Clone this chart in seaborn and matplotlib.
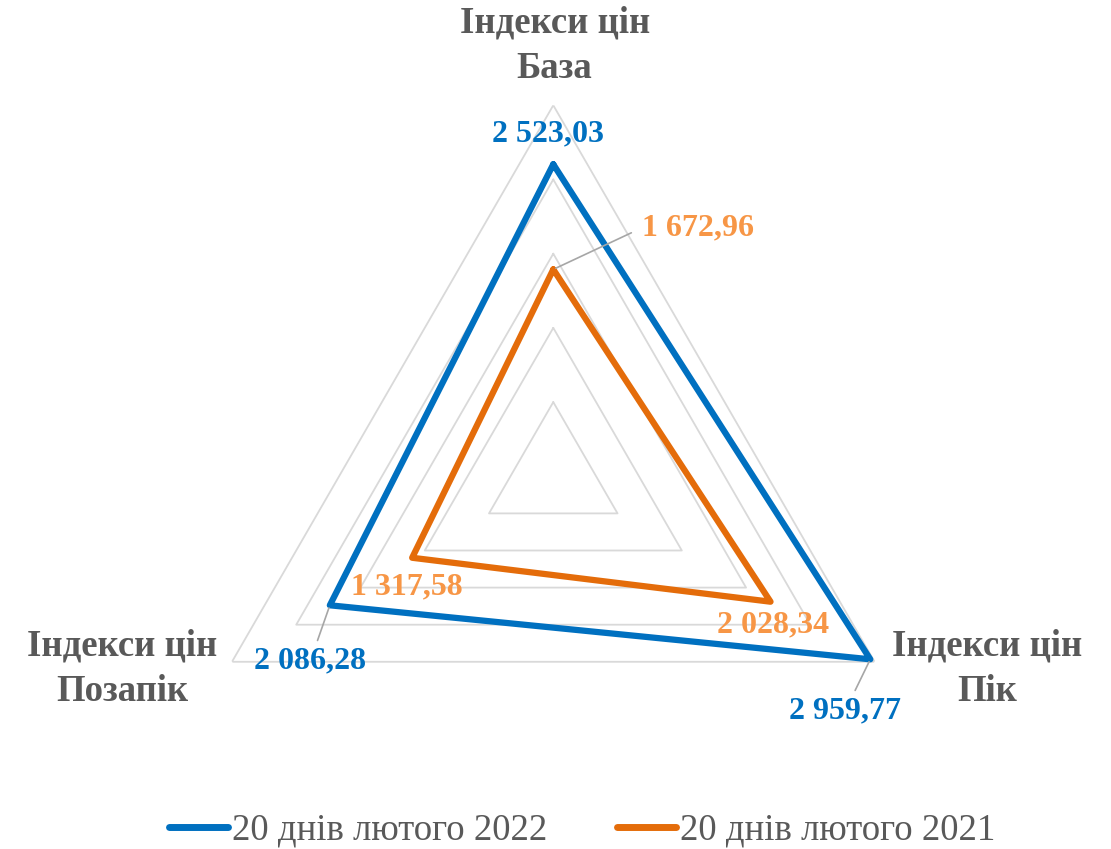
import numpy as np
import pandas as pd
import matplotlib
matplotlib.use("Agg")
import matplotlib.pyplot as plt
import seaborn as sns
from matplotlib.lines import Line2D

# дані
categories = ["Індекси цін\nБаза", "Індекси цін\nПік", "Індекси цін\nПозапік"]
series_names = ["20 днів лютого 2022", "20 днів лютого 2021"]
values_2022 = [2523.03, 2959.77, 2086.28]
values_2021 = [1672.96, 2028.34, 1317.58]
labels_2022 = ["2 523,03", "2 959,77", "2 086,28"]
labels_2021 = ["1 672,96", "2 028,34", "1 317,58"]
grid_levels = [600, 1200, 1800, 2400, 3000]

blue = "#0070C0"
orange = "#E46C0A"
orange_lbl = "#F79646"
grey = "#595959"

sns.set_theme(style="white")
plt.rcParams["font.family"] = ["Liberation Serif", "DejaVu Serif"]

n = len(categories)
angles = np.linspace(0, 2 * np.pi, n, endpoint=False)
ang_closed = np.append(angles, angles[0])

rows = []
for name, vals in zip(series_names, [values_2022, values_2021]):
    for a, v in zip(ang_closed, vals + vals[:1]):
        rows.append({"theta": a, "r": v, "series": name})
df = pd.DataFrame(rows)

fig = plt.figure(figsize=(11.11, 8.49), dpi=100)
ax = fig.add_axes([0.164, 0.002, 0.668, 0.874], projection="polar")
ax.set_theta_offset(np.pi / 2)
ax.set_theta_direction(-1)
ax.set_ylim(0, 3000)
ax.grid(False)
ax.spines["polar"].set_visible(False)
ax.set_xticks([])
ax.set_yticks([])

# сітка трикутниками
for lv in grid_levels:
    ax.plot(ang_closed, [lv] * (n + 1), color="#D9D9D9", lw=1.3, zorder=1)

sns.lineplot(data=df, x="theta", y="r", hue="series", sort=False,
             estimator=None, palette=[blue, orange], lw=4.5,
             legend=False, ax=ax, zorder=3)
ax.set_xlabel("")
ax.set_ylabel("")

# підписи значень
lbl_kw = dict(textcoords="offset points", fontsize=23, fontweight="bold")
leader = dict(arrowstyle="-", color="#A6A6A6", lw=1.2, shrinkA=2, shrinkB=2)
leader_left = dict(leader, relpos=(0, 0.5), shrinkA=6)
ax.annotate(labels_2022[0], (angles[0], values_2022[0]), xytext=(-4, 22),
            ha="center", va="center", color=blue, **lbl_kw)
ax.annotate(labels_2022[1], (angles[1], values_2022[1]), xytext=(-18, -37),
            ha="center", va="center", color=blue, arrowprops=leader, **lbl_kw)
ax.annotate(labels_2022[2], (angles[2], values_2022[2]), xytext=(-14, -40),
            ha="center", va="center", color=blue, arrowprops=leader, **lbl_kw)
ax.annotate(labels_2021[0], (angles[0], values_2021[0]), xytext=(64, 30),
            ha="left", va="center", color=orange_lbl, arrowprops=leader_left,
            **lbl_kw)
ax.annotate(labels_2021[1], (angles[1], values_2021[1]), xytext=(2, -17),
            ha="center", va="center", color=orange_lbl, **lbl_kw)
ax.annotate(labels_2021[2], (angles[2], values_2021[2]), xytext=(-4, -21),
            ha="center", va="center", color=orange_lbl, **lbl_kw)

# назви осей
cat_off = [(1, 43), (81, -5), (-79, -5)]
for a, c, off in zip(angles, categories, cat_off):
    ax.annotate(c, (a, 3000), xytext=off, textcoords="offset points",
                ha="center", va="center", fontsize=26.5, fontweight="bold",
                color=grey, linespacing=1.4, annotation_clip=False)

handles = [Line2D([], [], color=blue, lw=5, solid_capstyle="round"),
           Line2D([], [], color=orange, lw=5, solid_capstyle="round")]
fig.legend(handles, series_names, loc="center", bbox_to_anchor=(0.524, 0.022),
           ncol=2, frameon=False, fontsize=26.5, labelcolor=grey,
           handlelength=1.6, handletextpad=0.1, columnspacing=1.9)

fig.savefig("out.png", dpi=100, facecolor="white")
